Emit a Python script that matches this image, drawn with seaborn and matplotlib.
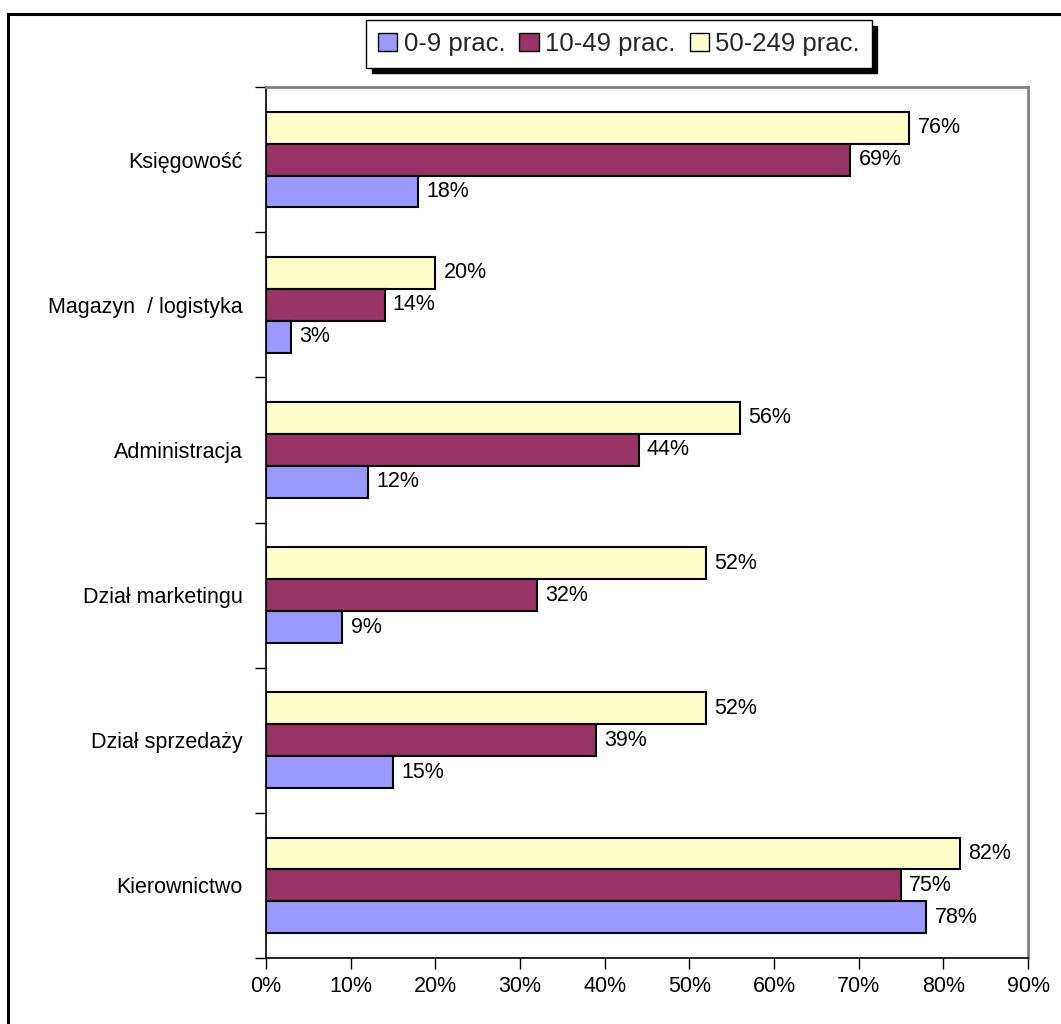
import numpy as np
import pandas as pd
import matplotlib
matplotlib.use("Agg")
import matplotlib.pyplot as plt
import matplotlib.patches as mpatches
import seaborn as sns

# categories top -> bottom
categories = ["Księgowość", "Magazyn  / logistyka", "Administracja",
              "Dział marketingu", "Dział sprzedaży", "Kierownictwo"]
series = ["0-9 prac.", "10-49 prac.", "50-249 prac."]
vals_0_9 = [18, 3, 12, 9, 15, 78]
vals_10_49 = [69, 14, 44, 32, 39, 75]
vals_50_249 = [76, 20, 56, 52, 52, 82]
colors = {"0-9 prac.": "#9999FF", "10-49 prac.": "#993366", "50-249 prac.": "#FFFFCC"}
xticks = np.arange(0, 100, 10)

df = pd.DataFrame({
    "kat": categories * 3,
    "grupa": [series[0]] * 6 + [series[1]] * 6 + [series[2]] * 6,
    "val": vals_0_9 + vals_10_49 + vals_50_249,
})

sns.set_style("white")
plt.rcParams["font.family"] = ["Liberation Sans", "DejaVu Sans"]
fs = 15.5

fig = plt.figure(figsize=(10.61, 10.24), dpi=100)
ax = fig.add_axes([266 / 1061, 1 - 958 / 1024, (1028 - 266) / 1061, (958 - 87) / 1024])

hue_order = series[::-1]  # yellow bar on top in each group
sns.barplot(data=df, x="val", y="kat", hue="grupa", order=categories,
            hue_order=hue_order, palette=colors, saturation=1, orient="h", width=0.66,
            edgecolor="black", linewidth=1.5, ax=ax, legend=False)

for c in ax.containers:
    ax.bar_label(c, fmt="%d%%", padding=6, fontsize=fs, color="black")

ax.set_xlim(0, 90)
ax.set_ylim(5.5, -0.5)
ax.set_xticks(xticks)
ax.set_xticklabels([f"{v}%" for v in xticks], fontsize=fs, color="black")
ax.set_yticks(np.arange(6))
ax.set_yticklabels(categories, fontsize=fs, color="black")
ax.tick_params(axis="y", length=0, pad=17)
# ticks between categories
ax.set_yticks(np.arange(-0.5, 6.0, 1.0), minor=True)
ax.tick_params(axis="y", which="minor", length=8, width=1, color="black", left=True)
ax.tick_params(axis="x", length=8, width=1, color="black", bottom=True, pad=5)
ax.set_xlabel("")
ax.set_ylabel("")

for s in ["left", "bottom"]:
    ax.spines[s].set_color("black")
    ax.spines[s].set_linewidth(1.2)
for s in ["top", "right"]:
    ax.spines[s].set_color("#808080")
    ax.spines[s].set_linewidth(2)

# legend with shadow
handles = [mpatches.Patch(facecolor=colors[s], edgecolor="black", label=s) for s in series]
leg = fig.legend(handles=handles, loc="center", bbox_to_anchor=(619 / 1061, 1 - 44 / 1024),
                 ncol=3, fontsize=18.5, frameon=True, fancybox=False,
                 shadow={"color": "black", "alpha": 1, "ox": 4, "oy": -4},
                 handlelength=0.75, handleheight=0.75, handletextpad=0.25, columnspacing=0.55,
                 borderpad=0.45, edgecolor="black")
leg.get_frame().set_linewidth(1)

# outer frame
fig.add_artist(mpatches.Rectangle((8 / 1061, -0.1), 1.2, 1 - 14 / 1024 + 0.1,
                                  transform=fig.transFigure, fill=False,
                                  edgecolor="black", linewidth=2.2))

fig.savefig("out.png", dpi=100)
